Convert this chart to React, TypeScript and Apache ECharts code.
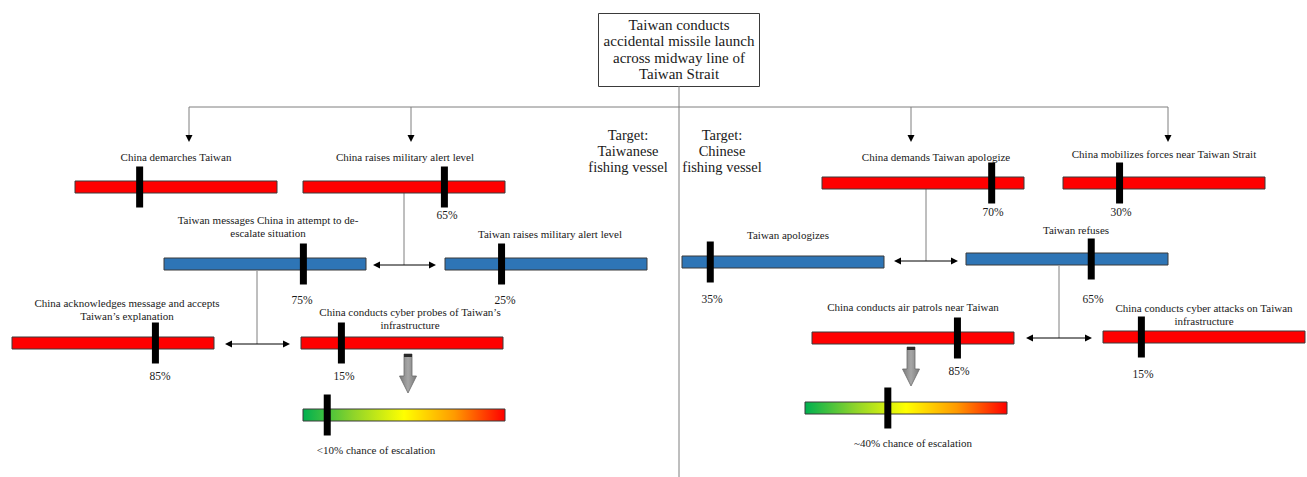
import React, { useEffect, useRef } from "react";
import * as echarts from "echarts";

// ---------- data ----------
const rootLabel = "Taiwan conducts\naccidental missile launch\nacross midway line of\nTaiwan Strait";
const targetLabels = ["Target:\nTaiwanese\nfishing vessel", "Target:\nChinese\nfishing vessel"];

const nodeLabels = [
  "China demarches Taiwan",
  "China raises military alert level",
  "Taiwan messages China in attempt to de-\nescalate situation",
  "Taiwan raises military alert level",
  "China acknowledges message and accepts\nTaiwan\u2019s explanation",
  "China conducts cyber probes of Taiwan\u2019s\ninfrastructure",
  "China demands Taiwan apologize",
  "China mobilizes forces near Taiwan Strait",
  "Taiwan apologizes",
  "Taiwan refuses",
  "China conducts air patrols near Taiwan",
  "China conducts cyber attacks on Taiwan\ninfrastructure",
];
const nodeActors = ["china", "china", "taiwan", "taiwan", "china", "china", "china", "china", "taiwan", "taiwan", "china", "china"];
// marker position along each bar (0-100)
const markerValues = [32, 70, 69, 28, 71, 20, 84, 28, 14, 62, 72, 19];
const percentLabels = ["", "65%", "75%", "25%", "85%", "15%", "70%", "30%", "35%", "65%", "85%", "15%"];

const escalationLabels = ["<10% chance of escalation", "~40% chance of escalation"];
const escalationValues = [12, 41];

// ---------- layout (pixels) ----------
const BAR_W = 202;
const BAR_H = 12;
const barLayouts = [
  [75, 181], [303, 181], [164, 258], [445, 258], [12, 337], [301, 337],
  [822, 177], [1063, 177], [682, 256], [966, 253], [812, 332], [1103, 331],
];
const gaugeLayouts = [[303, 409], [805, 402]];
const labelPos = [
  [176, 157], [405, 157], [268, 220], [550, 234], [127, 303], [410, 312],
  [936, 157], [1164, 154], [788, 235], [1076, 230], [913, 307], [1204, 308],
];
const pctPos = [
  [0, 0], [447, 215], [302, 300], [505, 300], [160, 376], [344, 376],
  [993, 212], [1121, 212], [712, 299], [1093, 299], [959, 371], [1143, 374],
];
const escalationTextPos = [[376, 450], [913, 443]];
const grayLines = [
  [679, 86, 679, 477],
  [189, 107, 1168, 107],
  [189, 107, 189, 136], [411, 107, 411, 136], [911, 107, 911, 136], [1168, 107, 1168, 136],
  [404, 193, 404, 265],
  [257, 271, 257, 344],
  [926, 189, 926, 261],
  [1059, 266, 1059, 338],
];
const downTips = [[189, 142], [411, 142], [911, 142], [1168, 142]];
const doubleArrows = [[373, 436, 265], [225, 290, 344], [894, 958, 261], [1026, 1092, 338]];
const blockArrows = [[408, 354], [911, 347]];

const FONT_FAMILY = "Liberation Serif";
const TEXT_COLOR = "#1a1a1a";

export default function App() {
  const ref = useRef<HTMLDivElement>(null);
  useEffect(() => {
    document.body.style.margin = "0";
    if (!ref.current) return;
    const chart = echarts.init(ref.current, undefined, { renderer: "svg" });

    const allLayouts = [...barLayouts, ...gaugeLayouts];
    const allValues = [...markerValues, ...escalationValues];
    const allKinds = [...nodeActors, "gauge", "gauge"];

    const gaugeFill = () =>
      new echarts.graphic.LinearGradient(0, 0, 1, 0, [
        { offset: 0, color: "#00b050" },
        { offset: 0.25, color: "#8fd42a" },
        { offset: 0.5, color: "#ffff00" },
        { offset: 0.75, color: "#ff9a00" },
        { offset: 1, color: "#ff0000" },
      ]);

    const grids = allLayouts.map(([x, y]) => ({ left: x, top: y, width: BAR_W, height: BAR_H }));
    const xAxes = allLayouts.map((_, i) => ({ gridIndex: i, type: "value", min: 0, max: 100, show: false }));
    const yAxes = allLayouts.map((_, i) => ({ gridIndex: i, type: "value", min: 0, max: 1, show: false }));
    const series = allLayouts.map((_, i) => ({
      type: "custom",
      xAxisIndex: i,
      yAxisIndex: i,
      clip: false,
      silent: true,
      data: [[allValues[i], 0.5]],
      renderItem: (params: any, api: any) => {
        const p0 = api.coord([0, 0]);
        const p1 = api.coord([100, 1]);
        const m = api.coord([api.value(0), 0.5]);
        const kind = allKinds[i];
        const fill = kind === "china" ? "#ff0000" : kind === "taiwan" ? "#2e75b6" : gaugeFill();
        return {
          type: "group",
          children: [
            {
              type: "rect",
              shape: { x: p0[0], y: p1[1], width: p1[0] - p0[0], height: p0[1] - p1[1] },
              style: { fill, stroke: "#3a3a3a", lineWidth: 1 },
            },
            {
              type: "rect",
              shape: { x: m[0] - 3.5, y: m[1] - 20.5, width: 7, height: 41 },
              style: { fill: "#000000" },
            },
          ],
        };
      },
    }));

    const txt = (x: number, y: number, text: string, size: number, lineHeight: number, va: string) => ({
      type: "text",
      x,
      y,
      style: {
        text,
        fontFamily: FONT_FAMILY,
        fontSize: size,
        fill: TEXT_COLOR,
        align: "center",
        verticalAlign: va,
        lineHeight,
      },
    });

    const graphic: any[] = [];
    // root box
    graphic.push({
      type: "rect",
      shape: { x: 598.5, y: 13.5, width: 161, height: 73 },
      style: { fill: "#ffffff", stroke: "#3a3a3a", lineWidth: 1 },
    });
    graphic.push(txt(679, 16.5, rootLabel, 15, 16.5, "top"));
    // target texts
    [[628, 127], [722, 127]].forEach(([x, y], i) => {
      graphic.push(txt(x, y, targetLabels[i], 14.5, 16, "top"));
    });
    // gray lines
    grayLines.forEach(([x1, y1, x2, y2]) => {
      graphic.push({
        type: "line",
        shape: { x1, y1, x2, y2 },
        style: { stroke: "#7f7f7f", lineWidth: 1 },
      });
    });
    // down arrowheads
    downTips.forEach(([x, y]) => {
      graphic.push({
        type: "polygon",
        shape: { points: [[x - 3.5, y - 7], [x + 3.5, y - 7], [x, y]] },
        style: { fill: "#000000" },
      });
    });
    // double arrows
    doubleArrows.forEach(([x1, x2, y]) => {
      graphic.push({ type: "line", shape: { x1: x1 + 4, y1: y, x2: x2 - 4, y2: y }, style: { stroke: "#000000", lineWidth: 1 } });
      graphic.push({ type: "polygon", shape: { points: [[x1, y], [x1 + 7, y - 3.5], [x1 + 7, y + 3.5]] }, style: { fill: "#000000" } });
      graphic.push({ type: "polygon", shape: { points: [[x2, y], [x2 - 7, y - 3.5], [x2 - 7, y + 3.5]] }, style: { fill: "#000000" } });
    });
    // block arrows
    blockArrows.forEach(([X, T]) => {
      graphic.push({
        type: "polygon",
        shape: {
          points: [[X - 4, T], [X + 4, T], [X + 4, T + 22], [X + 8.5, T + 22], [X, T + 39], [X - 8.5, T + 22], [X - 4, T + 22]],
        },
        style: {
          fill: new echarts.graphic.LinearGradient(0, 0, 1, 0, [
            { offset: 0, color: "#7a7a7a" },
            { offset: 0.5, color: "#a6a6a6" },
            { offset: 1, color: "#7a7a7a" },
          ]),
          stroke: "#6a6a6a",
          lineWidth: 0.8,
        },
      });
      graphic.push({ type: "rect", shape: { x: X - 4, y: T, width: 8, height: 3 }, style: { fill: "#2a2a2a" } });
    });
    // node labels
    nodeLabels.forEach((t, i) => {
      const [x, y] = labelPos[i];
      graphic.push(txt(x, y - 7, t, 11, 13.5, "top"));
    });
    // percent labels
    percentLabels.forEach((t, i) => {
      if (!t) return;
      const [x, y] = pctPos[i];
      graphic.push(txt(x, y, t, 11.5, 14, "middle"));
    });
    escalationLabels.forEach((t, i) => {
      const [x, y] = escalationTextPos[i];
      graphic.push(txt(x, y, t, 11, 14, "middle"));
    });

    chart.setOption({
      animation: false,
      backgroundColor: "#ffffff",
      grid: grids,
      xAxis: xAxes,
      yAxis: yAxes,
      series,
      graphic: { elements: graphic },
    } as any);

    return () => chart.dispose();
  }, []);
  return <div ref={ref} style={{ width: 1307, height: 477 }} />;
}
